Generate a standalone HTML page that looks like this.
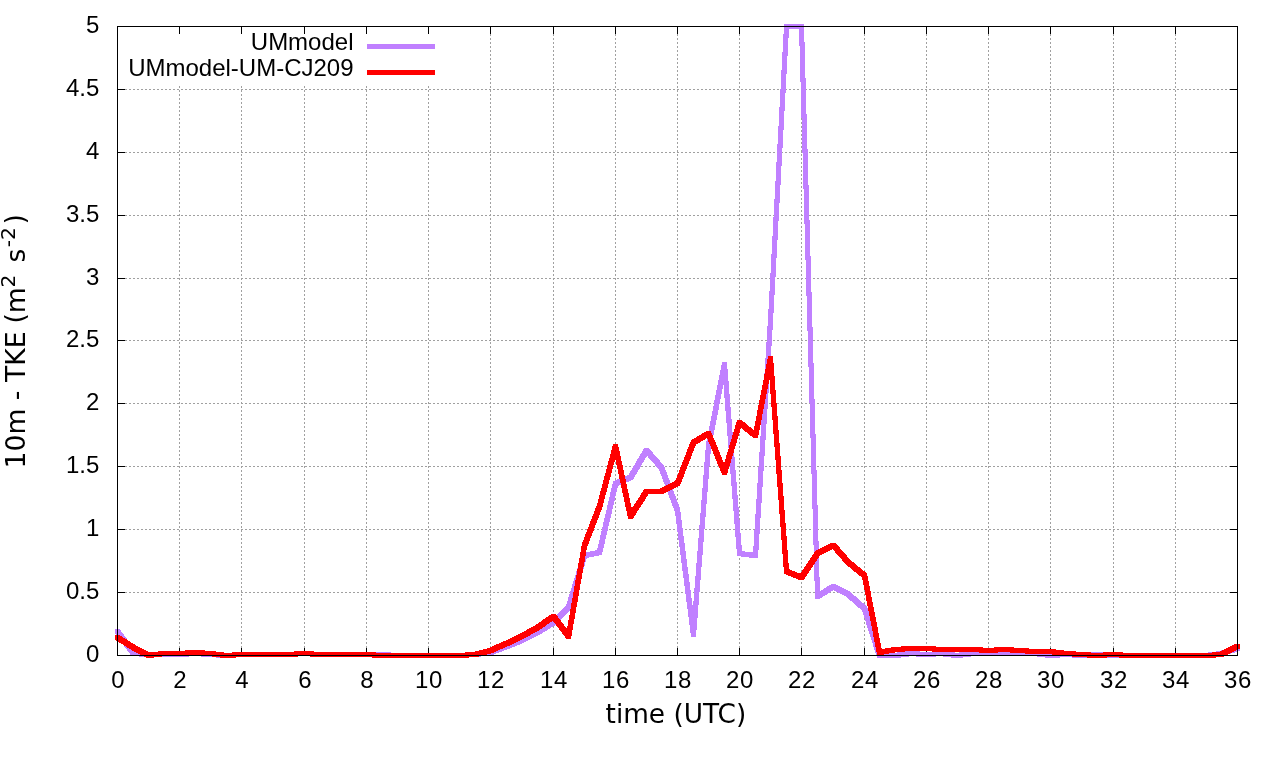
<!DOCTYPE html>
<html lang="en">
<head>
<meta charset="utf-8">
<title>10m - TKE</title>
<style>
html,body{margin:0;padding:0;background:#fff;overflow:hidden}
body{width:1280px;height:760px}
svg{display:block}
.tk{font-family:"Liberation Sans",Arial,sans-serif;font-size:24px;fill:#000}
.ax{font-family:"DejaVu Sans","Liberation Sans",sans-serif;font-size:26.67px;fill:#000}
</style>
</head>
<body>
<svg width="1280" height="760" viewBox="0 0 1280 760">
<rect x="0" y="0" width="1280" height="760" fill="#ffffff"/>

<g stroke="#a0a0a0" stroke-width="1" fill="none" shape-rendering="crispEdges">
<line x1="179.5" y1="656" x2="179.5" y2="27" stroke-dasharray="2 2"/>
<line x1="241.5" y1="656" x2="241.5" y2="27" stroke-dasharray="2 2"/>
<line x1="304.5" y1="656" x2="304.5" y2="27" stroke-dasharray="2 2"/>
<line x1="366.5" y1="656" x2="366.5" y2="27" stroke-dasharray="2 2"/>
<line x1="428.5" y1="656" x2="428.5" y2="27" stroke-dasharray="2 2"/>
<line x1="490.5" y1="656" x2="490.5" y2="27" stroke-dasharray="2 2"/>
<line x1="553.5" y1="656" x2="553.5" y2="27" stroke-dasharray="2 2"/>
<line x1="615.5" y1="656" x2="615.5" y2="27" stroke-dasharray="2 2"/>
<line x1="677.5" y1="656" x2="677.5" y2="27" stroke-dasharray="2 2"/>
<line x1="739.5" y1="656" x2="739.5" y2="27" stroke-dasharray="2 2"/>
<line x1="801.5" y1="656" x2="801.5" y2="27" stroke-dasharray="2 2"/>
<line x1="864.5" y1="656" x2="864.5" y2="27" stroke-dasharray="2 2"/>
<line x1="926.5" y1="656" x2="926.5" y2="27" stroke-dasharray="2 2"/>
<line x1="988.5" y1="656" x2="988.5" y2="27" stroke-dasharray="2 2"/>
<line x1="1050.5" y1="656" x2="1050.5" y2="27" stroke-dasharray="2 2"/>
<line x1="1113.5" y1="656" x2="1113.5" y2="27" stroke-dasharray="2 2"/>
<line x1="1175.5" y1="656" x2="1175.5" y2="27" stroke-dasharray="2 2"/>
<line x1="117" y1="592.5" x2="1237" y2="592.5" stroke-dasharray="2 2"/>
<line x1="117" y1="529.5" x2="1237" y2="529.5" stroke-dasharray="2 2"/>
<line x1="117" y1="466.5" x2="1237" y2="466.5" stroke-dasharray="2 2"/>
<line x1="117" y1="403.5" x2="1237" y2="403.5" stroke-dasharray="2 2"/>
<line x1="117" y1="340.5" x2="1237" y2="340.5" stroke-dasharray="2 2"/>
<line x1="117" y1="278.5" x2="1237" y2="278.5" stroke-dasharray="2 2"/>
<line x1="117" y1="215.5" x2="1237" y2="215.5" stroke-dasharray="2 2"/>
<line x1="117" y1="152.5" x2="1237" y2="152.5" stroke-dasharray="2 2"/>
<line x1="117" y1="89.5" x2="1237" y2="89.5" stroke-dasharray="2 2"/>
</g>
<rect x="118" y="27" width="327" height="58" fill="#fff"/>
<g stroke="#000" stroke-width="1" fill="none" shape-rendering="crispEdges">
<line x1="179.5" y1="656" x2="179.5" y2="648"/>
<line x1="179.5" y1="26" x2="179.5" y2="34"/>
<line x1="241.5" y1="656" x2="241.5" y2="648"/>
<line x1="241.5" y1="26" x2="241.5" y2="34"/>
<line x1="304.5" y1="656" x2="304.5" y2="648"/>
<line x1="304.5" y1="26" x2="304.5" y2="34"/>
<line x1="366.5" y1="656" x2="366.5" y2="648"/>
<line x1="366.5" y1="26" x2="366.5" y2="34"/>
<line x1="428.5" y1="656" x2="428.5" y2="648"/>
<line x1="428.5" y1="26" x2="428.5" y2="34"/>
<line x1="490.5" y1="656" x2="490.5" y2="648"/>
<line x1="490.5" y1="26" x2="490.5" y2="34"/>
<line x1="553.5" y1="656" x2="553.5" y2="648"/>
<line x1="553.5" y1="26" x2="553.5" y2="34"/>
<line x1="615.5" y1="656" x2="615.5" y2="648"/>
<line x1="615.5" y1="26" x2="615.5" y2="34"/>
<line x1="677.5" y1="656" x2="677.5" y2="648"/>
<line x1="677.5" y1="26" x2="677.5" y2="34"/>
<line x1="739.5" y1="656" x2="739.5" y2="648"/>
<line x1="739.5" y1="26" x2="739.5" y2="34"/>
<line x1="801.5" y1="656" x2="801.5" y2="648"/>
<line x1="801.5" y1="26" x2="801.5" y2="34"/>
<line x1="864.5" y1="656" x2="864.5" y2="648"/>
<line x1="864.5" y1="26" x2="864.5" y2="34"/>
<line x1="926.5" y1="656" x2="926.5" y2="648"/>
<line x1="926.5" y1="26" x2="926.5" y2="34"/>
<line x1="988.5" y1="656" x2="988.5" y2="648"/>
<line x1="988.5" y1="26" x2="988.5" y2="34"/>
<line x1="1050.5" y1="656" x2="1050.5" y2="648"/>
<line x1="1050.5" y1="26" x2="1050.5" y2="34"/>
<line x1="1113.5" y1="656" x2="1113.5" y2="648"/>
<line x1="1113.5" y1="26" x2="1113.5" y2="34"/>
<line x1="1175.5" y1="656" x2="1175.5" y2="648"/>
<line x1="1175.5" y1="26" x2="1175.5" y2="34"/>
<line x1="117" y1="592.5" x2="125" y2="592.5"/>
<line x1="1238" y1="592.5" x2="1230" y2="592.5"/>
<line x1="117" y1="529.5" x2="125" y2="529.5"/>
<line x1="1238" y1="529.5" x2="1230" y2="529.5"/>
<line x1="117" y1="466.5" x2="125" y2="466.5"/>
<line x1="1238" y1="466.5" x2="1230" y2="466.5"/>
<line x1="117" y1="403.5" x2="125" y2="403.5"/>
<line x1="1238" y1="403.5" x2="1230" y2="403.5"/>
<line x1="117" y1="340.5" x2="125" y2="340.5"/>
<line x1="1238" y1="340.5" x2="1230" y2="340.5"/>
<line x1="117" y1="278.5" x2="125" y2="278.5"/>
<line x1="1238" y1="278.5" x2="1230" y2="278.5"/>
<line x1="117" y1="215.5" x2="125" y2="215.5"/>
<line x1="1238" y1="215.5" x2="1230" y2="215.5"/>
<line x1="117" y1="152.5" x2="125" y2="152.5"/>
<line x1="1238" y1="152.5" x2="1230" y2="152.5"/>
<line x1="117" y1="89.5" x2="125" y2="89.5"/>
<line x1="1238" y1="89.5" x2="1230" y2="89.5"/>
</g>
<text class="tk" x="353.5" y="49.5" text-anchor="end">UMmodel</text>
<text class="tk" x="353.5" y="75.5" text-anchor="end">UMmodel-UM-CJ209</text>
<g shape-rendering="crispEdges" stroke="none">
<rect x="367" y="44" width="68" height="5" fill="#c080ff"/>
<path fill="#c080ff" d="M115 629h5v1h-5zM115 630h6v2h-6zM115 632h7v1h-7zM115 633h8v1h-8zM116 634h8v2h-8zM117 636h8v1h-8zM118 637h8v1h-8zM119 638h8v2h-8zM120 640h8v1h-8zM121 641h8v1h-8zM122 642h7v1h-7zM122 643h8v1h-8zM123 644h8v1h-8zM124 645h8v2h-8zM125 647h8v1h-8zM126 648h8v1h-8zM127 649h8v2h-8zM128 651h15v1h-15zM129 652h91v1h-91zM130 653h366v1h-366zM130 654h364v1h-364zM131 655h358v1h-358zM139 656h50v1h-50zM185 651h20v1h-20zM201 656h97v1h-97zM216 657h20v1h-20zM232 652h159v1h-159zM294 651h20v1h-20zM310 656h171v1h-171zM387 657h82v1h-82zM465 652h34v1h-34zM477 651h25v1h-25zM485 650h19v1h-19zM490 649h17v1h-17zM492 648h18v1h-18zM495 647h17v1h-17zM498 646h17v1h-17zM500 645h17v1h-17zM503 644h17v1h-17zM506 643h16v1h-16zM508 642h16v1h-16zM511 641h15v1h-15zM513 640h15v1h-15zM516 639h14v1h-14zM518 638h14v1h-14zM520 637h14v1h-14zM522 636h14v1h-14zM524 635h14v1h-14zM526 634h14v1h-14zM528 633h14v1h-14zM530 632h13v1h-13zM532 631h13v1h-13zM534 630h13v1h-13zM536 629h12v1h-12zM538 628h12v1h-12zM539 627h12v1h-12zM541 626h12v1h-12zM543 625h12v1h-12zM544 624h12v1h-12zM546 623h11v1h-11zM547 622h11v1h-11zM549 621h10v1h-10zM551 620h9v1h-9zM552 619h9v1h-9zM553 618h9v1h-9zM554 617h9v1h-9zM555 616h9v1h-9zM556 615h9v1h-9zM557 614h9v1h-9zM558 613h9v1h-9zM559 612h9v1h-9zM560 611h9v1h-9zM561 610h9v1h-9zM562 609h9v1h-9zM563 608h8v1h-8zM564 607h8v1h-8zM565 606h7v1h-7zM566 604h7v1h-7zM566 605h6v1h-6zM567 601h6v3h-6zM568 597h7v1h-7zM568 598h6v3h-6zM569 594h7v1h-7zM569 595h6v2h-6zM570 591h7v1h-7zM570 592h6v2h-6zM571 588h6v3h-6zM572 584h7v1h-7zM572 585h6v3h-6zM573 581h7v1h-7zM573 582h6v2h-6zM574 578h7v1h-7zM574 579h6v2h-6zM575 575h6v3h-6zM576 571h7v1h-7zM576 572h6v3h-6zM577 568h7v1h-7zM577 569h6v2h-6zM578 565h7v1h-7zM578 566h6v2h-6zM579 562h6v3h-6zM580 558h7v1h-7zM580 559h6v3h-6zM581 555h18v1h-18zM581 556h13v1h-13zM581 557h8v1h-8zM582 553h20v2h-20zM585 552h17v1h-17zM590 551h13v1h-13zM595 550h8v1h-8zM597 548h6v2h-6zM598 544h6v4h-6zM599 540h6v4h-6zM600 535h6v4h-6zM600 539h5v1h-5zM601 531h6v4h-6zM602 527h6v4h-6zM603 522h6v4h-6zM603 526h5v1h-5zM604 518h6v4h-6zM605 514h6v4h-6zM606 510h6v4h-6zM607 505h6v4h-6zM607 509h5v1h-5zM608 501h6v4h-6zM609 497h6v4h-6zM610 492h6v4h-6zM610 496h5v1h-5zM611 488h6v4h-6zM612 484h9v1h-9zM612 485h7v1h-7zM612 486h6v2h-6zM613 481h16v1h-16zM613 482h13v1h-13zM613 483h11v1h-11zM615 480h16v1h-16zM617 479h16v1h-16zM620 478h14v1h-14zM622 477h12v1h-12zM625 476h10v1h-10zM627 475h8v1h-8zM629 473h8v1h-8zM629 474h7v1h-7zM630 471h8v1h-8zM630 472h7v1h-7zM631 470h7v1h-7zM632 468h8v1h-8zM632 469h7v1h-7zM633 466h8v1h-8zM633 467h7v1h-7zM634 465h7v1h-7zM635 463h7v2h-7zM636 461h8v1h-8zM636 462h7v1h-7zM637 459h8v1h-8zM637 460h7v1h-7zM638 458h7v1h-7zM639 456h8v1h-8zM639 457h7v1h-7zM640 454h14v1h-14zM640 455h15v1h-15zM641 453h12v1h-12zM642 451h10v1h-10zM642 452h11v1h-11zM643 449h7v1h-7zM643 450h8v1h-8zM644 448h5v1h-5zM648 456h8v1h-8zM648 457h9v1h-9zM649 458h9v1h-9zM650 459h9v1h-9zM651 460h9v1h-9zM652 461h8v1h-8zM653 462h8v1h-8zM654 463h8v1h-8zM655 464h8v1h-8zM655 465h9v1h-9zM656 466h8v1h-8zM657 467h8v1h-8zM658 468h7v1h-7zM659 469h6v1h-6zM659 470h7v1h-7zM660 471h6v1h-6zM660 472h7v2h-7zM661 474h6v1h-6zM661 475h7v1h-7zM662 476h6v2h-6zM662 478h7v1h-7zM663 479h6v1h-6zM663 480h7v2h-7zM664 482h6v1h-6zM664 483h7v1h-7zM665 484h6v2h-6zM665 486h7v1h-7zM666 487h6v1h-6zM666 488h7v2h-7zM667 490h6v1h-6zM667 491h7v1h-7zM668 492h6v2h-6zM668 494h7v1h-7zM669 495h6v1h-6zM669 496h7v2h-7zM670 498h6v1h-6zM670 499h7v1h-7zM671 500h6v2h-6zM671 502h7v1h-7zM672 503h6v1h-6zM672 504h7v2h-7zM673 506h6v1h-6zM673 507h7v1h-7zM674 508h6v3h-6zM675 511h5v1h-5zM675 512h6v4h-6zM676 516h5v4h-5zM676 520h6v4h-6zM677 524h5v4h-5zM677 528h6v4h-6zM678 532h5v4h-5zM678 536h6v4h-6zM679 540h5v3h-5zM679 543h6v4h-6zM680 547h5v4h-5zM680 551h6v4h-6zM681 555h5v4h-5zM681 559h6v4h-6zM682 563h5v4h-5zM682 567h6v4h-6zM683 571h5v3h-5zM683 574h6v4h-6zM684 578h5v4h-5zM684 582h6v4h-6zM685 586h5v4h-5zM685 590h6v4h-6zM686 594h5v4h-5zM686 598h6v4h-6zM687 602h5v3h-5zM687 605h11v4h-11zM688 609h10v8h-10zM689 617h9v1h-9zM689 618h8v7h-8zM690 625h7v5h-7zM690 630h6v3h-6zM691 633h5v4h-5zM693 601h6v4h-6zM694 588h6v4h-6zM694 592h5v9h-5zM695 576h6v4h-6zM695 580h5v8h-5zM696 563h6v4h-6zM696 567h5v9h-5zM697 551h6v4h-6zM697 555h5v8h-5zM698 538h6v4h-6zM698 542h5v9h-5zM699 525h6v4h-6zM699 529h5v9h-5zM700 513h6v4h-6zM700 517h5v8h-5zM701 500h6v4h-6zM701 504h5v9h-5zM702 488h6v4h-6zM702 492h5v8h-5zM703 475h6v4h-6zM703 479h5v9h-5zM704 462h6v4h-6zM704 466h5v9h-5zM705 450h6v4h-6zM705 454h5v8h-5zM706 441h6v4h-6zM706 445h5v5h-5zM707 436h6v4h-6zM707 440h5v1h-5zM708 431h6v4h-6zM708 435h5v1h-5zM709 426h6v4h-6zM709 430h5v1h-5zM710 421h6v4h-6zM710 425h5v1h-5zM711 416h6v4h-6zM711 420h5v1h-5zM712 411h6v4h-6zM712 415h5v1h-5zM713 406h6v4h-6zM713 410h5v1h-5zM714 400h6v4h-6zM714 404h5v2h-5zM715 395h6v4h-6zM715 399h5v1h-5zM716 390h6v4h-6zM716 394h5v1h-5zM717 385h6v4h-6zM717 389h5v1h-5zM718 380h10v1h-10zM718 381h11v4h-11zM719 375h9v5h-9zM720 370h8v5h-8zM721 365h6v4h-6zM721 369h7v1h-7zM722 362h5v3h-5zM724 385h5v9h-5zM724 394h6v4h-6zM725 398h5v9h-5zM725 407h6v4h-6zM726 411h5v8h-5zM726 419h6v4h-6zM727 423h5v9h-5zM727 432h6v4h-6zM728 436h5v8h-5zM728 444h6v4h-6zM729 448h5v9h-5zM729 457h6v4h-6zM730 461h5v9h-5zM730 470h6v4h-6zM731 474h5v8h-5zM731 482h6v4h-6zM732 486h5v9h-5zM732 495h6v4h-6zM733 499h5v8h-5zM733 507h6v4h-6zM734 511h5v9h-5zM734 520h6v4h-6zM735 524h5v9h-5zM735 533h6v4h-6zM736 537h5v8h-5zM736 545h6v4h-6zM737 549h5v2h-5zM737 551h8v1h-8zM737 552h21v4h-21zM741 556h17v1h-17zM749 557h9v1h-9zM753 546h6v4h-6zM753 550h5v2h-5zM754 530h6v4h-6zM754 534h5v12h-5zM755 514h6v4h-6zM755 518h5v12h-5zM756 499h6v4h-6zM756 503h5v11h-5zM757 483h6v4h-6zM757 487h5v12h-5zM758 467h6v4h-6zM758 471h5v12h-5zM759 452h6v4h-6zM759 456h5v11h-5zM760 436h6v4h-6zM760 440h5v12h-5zM761 420h6v4h-6zM761 424h5v12h-5zM762 405h6v4h-6zM762 409h5v11h-5zM763 389h6v4h-6zM763 393h5v12h-5zM764 373h6v4h-6zM764 377h5v12h-5zM765 358h6v4h-6zM765 362h5v11h-5zM766 342h6v4h-6zM766 346h5v12h-5zM767 326h6v4h-6zM767 330h5v12h-5zM768 309h6v4h-6zM768 313h5v13h-5zM769 291h6v4h-6zM769 295h5v14h-5zM770 273h6v4h-6zM770 277h5v14h-5zM771 254h6v4h-6zM771 258h5v15h-5zM772 236h6v4h-6zM772 240h5v14h-5zM773 217h6v4h-6zM773 221h5v15h-5zM774 199h6v4h-6zM774 203h5v14h-5zM775 181h6v4h-6zM775 185h5v14h-5zM776 162h6v4h-6zM776 166h5v15h-5zM777 144h6v4h-6zM777 148h5v14h-5zM778 126h6v4h-6zM778 130h5v14h-5zM779 107h6v4h-6zM779 111h5v15h-5zM780 89h6v4h-6zM780 93h5v14h-5zM781 70h6v4h-6zM781 74h5v15h-5zM782 52h6v4h-6zM782 56h5v14h-5zM783 34h6v4h-6zM783 38h5v14h-5zM784 24h20v5h-20zM784 29h5v5h-5zM799 29h5v13h-5zM799 42h6v4h-6zM800 46h5v32h-5zM800 78h6v4h-6zM801 82h5v32h-5zM801 114h6v4h-6zM802 118h5v31h-5zM802 149h6v4h-6zM803 153h5v32h-5zM803 185h6v4h-6zM804 189h5v31h-5zM804 220h6v4h-6zM805 224h5v32h-5zM805 256h6v4h-6zM806 260h5v32h-5zM806 292h6v4h-6zM807 296h5v31h-5zM807 327h6v4h-6zM808 331h5v32h-5zM808 363h6v4h-6zM809 367h5v32h-5zM809 399h6v4h-6zM810 403h5v31h-5zM810 434h6v4h-6zM811 438h5v32h-5zM811 470h6v4h-6zM812 474h5v31h-5zM812 505h6v4h-6zM813 509h5v32h-5zM813 541h6v4h-6zM814 545h5v32h-5zM814 577h6v4h-6zM815 581h5v10h-5zM815 591h16v1h-16zM815 592h15v1h-15zM815 593h13v1h-13zM815 594h12v1h-12zM815 595h10v1h-10zM815 596h8v1h-8zM815 597h7v1h-7zM815 598h5v1h-5zM821 590h12v1h-12zM823 589h23v1h-23zM824 588h20v1h-20zM826 587h16v1h-16zM827 586h13v1h-13zM829 585h9v1h-9zM831 584h5v1h-5zM834 590h14v1h-14zM836 591h14v1h-14zM838 592h13v1h-13zM840 593h12v1h-12zM842 594h11v1h-11zM844 595h10v1h-10zM846 596h10v1h-10zM847 597h10v1h-10zM848 598h10v1h-10zM849 599h10v1h-10zM850 600h10v1h-10zM852 601h9v1h-9zM853 602h9v1h-9zM854 603h10v1h-10zM855 604h10v1h-10zM856 605h10v1h-10zM857 606h10v1h-10zM858 607h9v1h-9zM860 608h8v1h-8zM861 609h7v1h-7zM862 610h6v1h-6zM862 611h7v1h-7zM863 612h6v2h-6zM863 614h7v1h-7zM864 615h6v2h-6zM864 617h7v1h-7zM865 618h6v3h-6zM866 621h6v3h-6zM866 624h7v1h-7zM867 625h6v2h-6zM867 627h7v1h-7zM868 628h6v2h-6zM868 630h7v1h-7zM869 631h6v2h-6zM869 633h7v1h-7zM870 634h6v2h-6zM870 636h7v1h-7zM871 637h6v2h-6zM871 639h7v1h-7zM872 640h6v3h-6zM873 643h6v3h-6zM873 646h7v1h-7zM874 647h6v2h-6zM874 649h7v1h-7zM875 650h6v2h-6zM875 652h7v1h-7zM876 653h355v1h-355zM876 654h352v1h-352zM876 655h349v1h-349zM877 656h32v1h-32zM877 657h24v1h-24zM897 652h58v1h-58zM905 651h15v1h-15zM916 656h20v1h-20zM932 651h15v1h-15zM943 656h28v1h-28zM951 657h12v1h-12zM959 652h90v1h-90zM967 651h74v1h-74zM1037 656h183v1h-183zM1045 657h15v1h-15zM1056 652h20v1h-20zM1072 657h19v1h-19zM1087 652h20v1h-20zM1103 657h109v1h-109zM1208 652h27v1h-27zM1216 651h22v1h-22zM1221 650h19v1h-19zM1224 649h16v1h-16zM1227 648h13v1h-13zM1231 647h9v1h-9zM1234 646h6v1h-6z"/>
<rect x="367" y="70" width="68" height="5" fill="#ff0000"/>
<path fill="#ff0000" d="M115 635h5v1h-5zM115 636h7v1h-7zM115 637h8v1h-8zM115 638h10v1h-10zM115 639h12v1h-12zM116 640h12v1h-12zM118 641h12v1h-12zM119 642h12v1h-12zM121 643h12v1h-12zM123 644h12v1h-12zM124 645h12v1h-12zM126 646h12v1h-12zM127 647h13v1h-13zM129 648h13v1h-13zM131 649h13v1h-13zM132 650h14v1h-14zM134 651h14v1h-14zM136 652h88v1h-88zM138 653h353v1h-353zM140 654h347v1h-347zM142 655h47v1h-47zM144 656h18v1h-18zM146 657h8v1h-8zM158 651h58v1h-58zM185 650h20v1h-20zM201 655h282v1h-282zM212 656h86v1h-86zM220 657h16v1h-16zM232 652h144v1h-144zM294 651h20v1h-20zM310 656h169v1h-169zM372 657h97v1h-97zM465 652h29v1h-29zM475 651h21v1h-21zM479 650h19v1h-19zM483 649h17v1h-17zM487 648h16v1h-16zM490 647h15v1h-15zM492 646h15v1h-15zM494 645h16v1h-16zM496 644h16v1h-16zM499 643h15v1h-15zM501 642h15v1h-15zM503 641h15v1h-15zM506 640h14v1h-14zM508 639h14v1h-14zM510 638h14v1h-14zM512 637h14v1h-14zM514 636h14v1h-14zM516 635h14v1h-14zM518 634h13v1h-13zM520 633h13v1h-13zM522 632h13v1h-13zM524 631h13v1h-13zM526 630h13v1h-13zM527 629h13v1h-13zM529 628h13v1h-13zM531 627h12v1h-12zM533 626h12v1h-12zM535 625h11v1h-11zM536 624h11v1h-11zM538 623h11v1h-11zM539 622h11v1h-11zM541 621h11v1h-11zM542 620h19v1h-19zM543 619h17v1h-17zM545 618h14v1h-14zM546 617h12v1h-12zM548 616h10v1h-10zM549 615h8v1h-8zM551 614h5v1h-5zM553 621h8v1h-8zM554 622h8v1h-8zM555 623h8v1h-8zM556 624h8v2h-8zM557 626h8v1h-8zM558 627h8v1h-8zM559 628h14v2h-14zM560 630h12v1h-12zM561 631h11v1h-11zM562 632h10v2h-10zM563 634h9v1h-9zM564 635h8v1h-8zM565 636h6v2h-6zM566 638h5v1h-5zM567 626h6v2h-6zM568 620h6v4h-6zM568 624h5v2h-5zM569 615h6v4h-6zM569 619h5v1h-5zM570 609h6v4h-6zM570 613h5v2h-5zM571 603h6v4h-6zM571 607h5v2h-5zM572 598h6v4h-6zM572 602h5v1h-5zM573 592h6v4h-6zM573 596h5v2h-5zM574 586h6v4h-6zM574 590h5v2h-5zM575 580h6v4h-6zM575 584h5v2h-5zM576 575h6v4h-6zM576 579h5v1h-5zM577 569h6v4h-6zM577 573h5v2h-5zM578 563h6v4h-6zM578 567h5v2h-5zM579 558h6v4h-6zM579 562h5v1h-5zM580 552h6v4h-6zM580 556h5v2h-5zM581 546h6v4h-6zM581 550h5v2h-5zM582 542h7v2h-7zM582 544h6v2h-6zM583 540h7v1h-7zM583 541h6v1h-6zM584 537h7v1h-7zM584 538h6v2h-6zM585 534h7v2h-7zM585 536h6v1h-6zM586 532h7v1h-7zM586 533h6v1h-6zM587 529h7v2h-7zM587 531h6v1h-6zM588 527h7v1h-7zM588 528h6v1h-6zM589 524h7v1h-7zM589 525h6v2h-6zM590 521h7v2h-7zM590 523h6v1h-6zM591 519h7v1h-7zM591 520h6v1h-6zM592 516h7v2h-7zM592 518h6v1h-6zM593 514h7v1h-7zM593 515h6v1h-6zM594 511h7v1h-7zM594 512h6v2h-6zM595 508h7v2h-7zM595 510h6v1h-6zM596 506h7v1h-7zM596 507h6v1h-6zM597 503h6v3h-6zM598 499h6v4h-6zM599 495h6v4h-6zM600 491h7v1h-7zM600 492h6v3h-6zM601 488h6v3h-6zM602 484h6v4h-6zM603 480h6v4h-6zM604 476h7v1h-7zM604 477h6v3h-6zM605 473h6v3h-6zM606 469h6v4h-6zM607 465h6v4h-6zM608 461h7v1h-7zM608 462h6v3h-6zM609 458h12v2h-12zM609 460h6v1h-6zM610 454h10v2h-10zM610 456h11v2h-11zM611 450h8v1h-8zM611 451h9v3h-9zM612 446h6v1h-6zM612 447h7v3h-7zM613 444h5v2h-5zM616 460h5v1h-5zM616 461h6v4h-6zM617 465h6v4h-6zM618 469h5v1h-5zM618 470h6v4h-6zM619 474h5v1h-5zM619 475h6v4h-6zM620 479h6v4h-6zM621 483h5v1h-5zM621 484h6v4h-6zM622 488h5v1h-5zM622 489h6v4h-6zM623 493h6v4h-6zM624 497h5v1h-5zM624 498h6v4h-6zM625 502h5v1h-5zM625 503h6v4h-6zM626 507h14v1h-14zM626 508h13v2h-13zM626 510h12v1h-12zM627 511h10v2h-10zM627 513h9v2h-9zM627 515h8v1h-8zM628 516h6v2h-6zM628 518h5v1h-5zM633 506h8v1h-8zM634 504h8v1h-8zM634 505h7v1h-7zM635 503h8v1h-8zM636 501h8v1h-8zM636 502h7v1h-7zM637 500h8v1h-8zM638 498h8v1h-8zM638 499h7v1h-7zM639 497h7v1h-7zM640 495h8v1h-8zM640 496h7v1h-7zM641 493h23v1h-23zM641 494h7v1h-7zM642 492h24v1h-24zM643 490h27v1h-27zM643 491h25v1h-25zM644 489h28v1h-28zM660 488h14v1h-14zM662 487h14v1h-14zM664 486h14v1h-14zM666 485h14v1h-14zM668 484h12v1h-12zM670 483h11v1h-11zM672 482h9v1h-9zM674 481h8v1h-8zM675 480h7v1h-7zM676 478h7v1h-7zM676 479h6v1h-6zM677 475h7v2h-7zM677 477h6v1h-6zM678 473h7v1h-7zM678 474h6v1h-6zM679 470h7v1h-7zM679 471h6v2h-6zM680 467h7v2h-7zM680 469h6v1h-6zM681 465h7v1h-7zM681 466h6v1h-6zM682 462h7v2h-7zM682 464h6v1h-6zM683 460h7v1h-7zM683 461h6v1h-6zM684 457h7v2h-7zM684 459h6v1h-6zM685 455h7v1h-7zM685 456h6v1h-6zM686 452h7v1h-7zM686 453h6v2h-6zM687 449h7v2h-7zM687 451h6v1h-6zM688 447h7v1h-7zM688 448h6v1h-6zM689 444h7v2h-7zM689 446h6v1h-6zM690 442h10v1h-10zM690 443h8v1h-8zM691 440h12v1h-12zM691 441h10v1h-10zM692 439h13v1h-13zM694 438h12v1h-12zM696 437h17v1h-17zM697 436h16v1h-16zM699 435h14v1h-14zM701 434h11v1h-11zM702 433h10v1h-10zM704 432h7v1h-7zM706 431h5v1h-5zM707 438h7v1h-7zM708 439h6v1h-6zM708 440h7v2h-7zM709 442h7v2h-7zM710 444h6v1h-6zM710 445h7v1h-7zM711 446h6v1h-6zM711 447h7v2h-7zM712 449h6v1h-6zM712 450h7v1h-7zM713 451h6v1h-6zM713 452h7v2h-7zM714 454h6v1h-6zM714 455h7v1h-7zM715 456h6v1h-6zM715 457h7v2h-7zM716 459h6v1h-6zM716 460h7v1h-7zM717 461h6v1h-6zM717 462h14v1h-14zM717 463h13v1h-13zM718 464h12v2h-12zM719 466h10v2h-10zM720 468h9v1h-9zM720 469h8v2h-8zM721 471h7v2h-7zM722 473h5v2h-5zM725 459h6v3h-6zM726 455h7v1h-7zM726 456h6v3h-6zM727 452h7v1h-7zM727 453h6v2h-6zM728 449h6v3h-6zM729 445h7v1h-7zM729 446h6v3h-6zM730 442h7v1h-7zM730 443h6v2h-6zM731 439h6v3h-6zM732 435h7v1h-7zM732 436h6v3h-6zM733 432h7v1h-7zM733 433h6v2h-6zM734 429h6v3h-6zM735 425h13v1h-13zM735 426h14v1h-14zM735 427h16v1h-16zM735 428h6v1h-6zM736 422h9v1h-9zM736 423h10v1h-10zM736 424h11v1h-11zM737 420h5v1h-5zM737 421h6v1h-6zM742 428h10v1h-10zM743 429h10v1h-10zM744 430h15v1h-15zM745 431h14v1h-14zM747 432h12v1h-12zM748 433h11v1h-11zM749 434h10v1h-10zM750 435h8v1h-8zM752 436h6v1h-6zM753 437h5v1h-5zM754 426h6v4h-6zM755 421h6v4h-6zM755 425h5v1h-5zM756 416h6v4h-6zM756 420h5v1h-5zM757 410h6v4h-6zM757 414h5v2h-5zM758 405h6v4h-6zM758 409h5v1h-5zM759 400h6v4h-6zM759 404h5v1h-5zM760 395h6v4h-6zM760 399h5v1h-5zM761 390h6v4h-6zM761 394h5v1h-5zM762 385h6v4h-6zM762 389h5v1h-5zM763 380h6v4h-6zM763 384h5v1h-5zM764 374h10v2h-10zM764 376h11v4h-11zM765 369h9v5h-9zM766 364h8v5h-8zM767 359h6v4h-6zM767 363h7v1h-7zM768 356h5v3h-5zM770 380h5v10h-5zM770 390h6v4h-6zM771 394h5v9h-5zM771 403h6v4h-6zM772 407h5v9h-5zM772 416h6v4h-6zM773 420h5v10h-5zM773 430h6v4h-6zM774 434h5v9h-5zM774 443h6v4h-6zM775 447h5v9h-5zM775 456h6v4h-6zM776 460h5v10h-5zM776 470h6v4h-6zM777 474h5v9h-5zM777 483h6v4h-6zM778 487h5v9h-5zM778 496h6v4h-6zM779 500h5v10h-5zM779 510h6v4h-6zM780 514h5v9h-5zM780 523h6v4h-6zM781 527h5v9h-5zM781 536h6v4h-6zM782 540h5v10h-5zM782 550h6v4h-6zM783 554h5v9h-5zM783 563h6v4h-6zM784 567h5v2h-5zM784 569h6v1h-6zM784 570h8v1h-8zM784 571h11v1h-11zM784 572h13v1h-13zM784 573h24v1h-24zM786 574h21v1h-21zM788 575h19v1h-19zM791 576h15v1h-15zM793 577h12v1h-12zM796 578h9v1h-9zM798 579h6v1h-6zM801 572h8v1h-8zM802 570h8v1h-8zM802 571h7v1h-7zM803 569h8v1h-8zM804 567h8v1h-8zM804 568h7v1h-7zM805 566h8v1h-8zM806 564h8v1h-8zM806 565h7v1h-7zM807 563h8v1h-8zM808 561h8v1h-8zM808 562h7v1h-7zM809 560h8v1h-8zM810 558h8v1h-8zM810 559h7v1h-7zM811 557h8v1h-8zM812 555h8v1h-8zM812 556h7v1h-7zM813 554h9v1h-9zM814 552h12v1h-12zM814 553h10v1h-10zM815 551h13v1h-13zM816 550h14v1h-14zM818 549h14v1h-14zM820 548h20v1h-20zM822 547h18v1h-18zM824 546h15v1h-15zM826 545h12v1h-12zM828 544h9v1h-9zM830 543h6v1h-6zM833 549h8v1h-8zM834 550h8v1h-8zM835 551h8v1h-8zM835 552h9v1h-9zM836 553h9v1h-9zM837 554h9v1h-9zM838 555h9v1h-9zM839 556h8v1h-8zM840 557h8v1h-8zM841 558h8v1h-8zM842 559h8v1h-8zM842 560h9v1h-9zM843 561h9v1h-9zM844 562h10v1h-10zM845 563h10v1h-10zM846 564h10v1h-10zM847 565h10v1h-10zM848 566h10v1h-10zM850 567h10v1h-10zM851 568h10v1h-10zM852 569h10v1h-10zM853 570h10v1h-10zM854 571h11v1h-11zM856 572h10v1h-10zM857 573h10v1h-10zM858 574h9v1h-9zM859 575h8v1h-8zM861 576h7v1h-7zM862 577h6v3h-6zM863 580h5v1h-5zM863 581h6v4h-6zM864 585h5v1h-5zM864 586h6v4h-6zM865 590h5v1h-5zM865 591h6v4h-6zM866 595h5v2h-5zM866 597h6v4h-6zM867 601h5v1h-5zM867 602h6v4h-6zM868 606h5v1h-5zM868 607h6v4h-6zM869 611h5v1h-5zM869 612h6v4h-6zM870 616h5v1h-5zM870 617h6v4h-6zM871 621h5v1h-5zM871 622h6v4h-6zM872 626h5v1h-5zM872 627h6v4h-6zM873 631h5v2h-5zM873 633h6v4h-6zM874 637h5v1h-5zM874 638h6v4h-6zM875 642h5v1h-5zM875 643h6v4h-6zM876 647h5v1h-5zM876 648h6v1h-6zM876 649h180v1h-180zM876 650h188v1h-188zM876 651h29v1h-29zM877 652h18v1h-18zM877 653h12v1h-12zM877 654h7v1h-7zM885 648h144v1h-144zM891 647h92v1h-92zM901 646h35v1h-35zM932 651h144v1h-144zM979 652h19v1h-19zM994 647h20v1h-20zM1010 652h81v1h-81zM1025 653h205v1h-205zM1052 654h176v1h-176zM1060 655h166v1h-166zM1072 656h152v1h-152zM1087 657h20v1h-20zM1103 652h20v1h-20zM1119 657h97v1h-97zM1212 652h20v1h-20zM1220 651h14v1h-14zM1222 650h14v1h-14zM1224 649h14v1h-14zM1226 648h14v1h-14zM1228 647h12v1h-12zM1230 646h10v1h-10zM1232 645h8v1h-8zM1234 644h6v1h-6z"/>
</g>
<rect x="117.5" y="26.5" width="1120" height="629" fill="none" stroke="#000" stroke-width="1" shape-rendering="crispEdges"/>
<g class="tk" text-anchor="end">
<text x="99.3" y="662.0">0</text>
<text x="99.3" y="599.0">0.5</text>
<text x="99.3" y="536.0">1</text>
<text x="99.3" y="473.0">1.5</text>
<text x="99.3" y="410.0">2</text>
<text x="99.3" y="347.0">2.5</text>
<text x="99.3" y="285.0">3</text>
<text x="99.3" y="222.0">3.5</text>
<text x="99.3" y="159.0">4</text>
<text x="99.3" y="96.0">4.5</text>
<text x="99.3" y="33.0">5</text>
</g>
<g class="tk" text-anchor="middle">
<text x="117.9" y="687.5">0</text>
<text x="179.9" y="687.5">2</text>
<text x="241.9" y="687.5">4</text>
<text x="304.9" y="687.5">6</text>
<text x="366.9" y="687.5">8</text>
<text x="428.7" y="687.5" dx="0 0.8">10</text>
<text x="490.7" y="687.5" dx="0 0.8">12</text>
<text x="553.7" y="687.5" dx="0 0.8">14</text>
<text x="615.7" y="687.5" dx="0 0.8">16</text>
<text x="677.7" y="687.5" dx="0 0.8">18</text>
<text x="739.7" y="687.5" dx="0 0.8">20</text>
<text x="801.7" y="687.5" dx="0 0.8">22</text>
<text x="864.7" y="687.5" dx="0 0.8">24</text>
<text x="926.7" y="687.5" dx="0 0.8">26</text>
<text x="988.7" y="687.5" dx="0 0.8">28</text>
<text x="1050.7" y="687.5" dx="0 0.8">30</text>
<text x="1113.7" y="687.5" dx="0 0.8">32</text>
<text x="1175.7" y="687.5" dx="0 0.8">34</text>
<text x="1237.7" y="687.5" dx="0 0.8">36</text>
</g>
<text class="ax" x="675.9" y="723" text-anchor="middle" style="font-size:26.35px">time (UTC)</text>
<text class="ax" transform="translate(24.5,468.5) rotate(-90)" text-anchor="start">10m - TKE <tspan dx="-0.4" dy="-0.2">(</tspan><tspan dx="-0.2" dy="0.2">m</tspan><tspan dy="-10" dx="-0.4" font-size="20.3">2</tspan><tspan dy="10" dx="3.6"> s</tspan><tspan dy="-10" dx="1.5" font-size="20.3">-2</tspan><tspan dy="9.8" dx="2.4">)</tspan></text>
</svg>
</body>
</html>
